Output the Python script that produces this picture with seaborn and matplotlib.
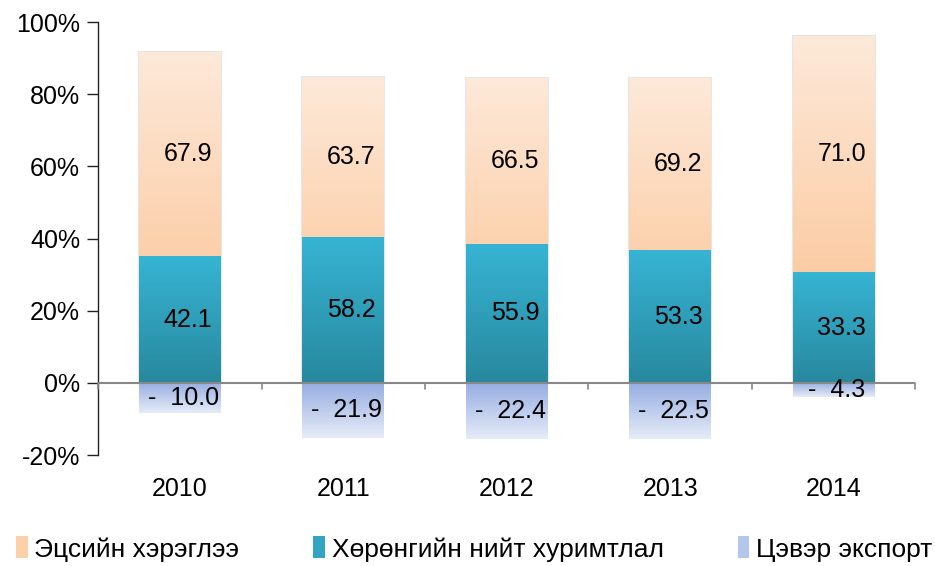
import numpy as np
import pandas as pd
import matplotlib
matplotlib.use('Agg')
import matplotlib.pyplot as plt
from matplotlib.colors import LinearSegmentedColormap
from matplotlib.patches import Patch
import seaborn as sns

years = ['2010', '2011', '2012', '2013', '2014']
consumption = [67.9, 63.7, 66.5, 69.2, 71.0]
investment = [42.1, 58.2, 55.9, 53.3, 33.3]
net_export = [-10.0, -21.9, -22.4, -22.5, -4.3]
series_names = ['Эцсийн хэрэглээ', 'Хөрөнгийн нийт хуримтлал', 'Цэвэр экспорт']

df = pd.DataFrame({'year': years, 'cons': consumption,
                   'inv': investment, 'nx': net_export})
total = df[['cons', 'inv']].sum(axis=1) + df['nx'].abs()
df['inv_pct'] = df['inv'] / total * 100
df['top_pct'] = (df['inv'] + df['cons']) / total * 100
df['nx_pct'] = df['nx'] / total * 100

sns.set_style('white')
plt.rcParams['font.family'] = ['Liberation Sans', 'DejaVu Sans']
plt.rcParams['text.color'] = 'black'
plt.rcParams['xtick.color'] = 'black'
plt.rcParams['ytick.color'] = 'black'

fig = plt.figure(figsize=(9.35, 5.66), dpi=100)
ax = fig.add_axes([0.105, 0.196, 0.874, 0.765])

grads = {
    'top': ('#fde9d9', '#fbbf8c'),
    'inv': ('#37b4d4', '#28889e'),
    'nx': ('#97aee2', '#e6ecf8'),
}

sns.barplot(data=df, x='year', y='top_pct', color='#fcd5b4', width=0.5,
            edgecolor='#e6e6e6', linewidth=1.5, ax=ax)
sns.barplot(data=df, x='year', y='inv_pct', color='#31a5c2', width=0.5,
            edgecolor='#e6e6e6', linewidth=1.5, ax=ax)
sns.barplot(data=df, x='year', y='nx_pct', color='#bccbee', width=0.5,
            linewidth=0, ax=ax)

keys = ['top'] * 5 + ['inv'] * 5 + ['nx'] * 5
for patch, key in zip(ax.patches, keys):
    x0, y0 = patch.get_x(), patch.get_y()
    w, h = patch.get_width(), patch.get_height()
    ylo, yhi = min(y0, y0 + h), max(y0, y0 + h)
    cmap = LinearSegmentedColormap.from_list(key, [grads[key][1], grads[key][0]])
    grad = np.linspace(0, 1, 256).reshape(-1, 1)
    im = ax.imshow(grad, extent=(x0, x0 + w, ylo, yhi), origin='lower',
                   cmap=cmap, aspect='auto', zorder=patch.get_zorder() + 0.1)
    im.set_clip_path(patch)

for i, row in df.iterrows():
    ax.text(i + 0.05, row['inv_pct'] + (row['top_pct'] - row['inv_pct']) / 2,
            f"{row['cons']:.1f}", ha='center', va='center', fontsize=18, zorder=5)
    ax.text(i + 0.05, row['inv_pct'] / 2, f"{row['inv']:.1f}",
            ha='center', va='center', fontsize=18, zorder=5)
    ax.text(i + 0.02, row['nx_pct'] / 2, f"-  {abs(row['nx']):.1f}",
            ha='center', va='center', fontsize=18, zorder=5)

ax.set_xlim(-0.5, 4.5)
ax.set_ylim(-20, 100)
ax.set_yticks(range(-20, 101, 20))
ax.set_yticklabels([f'{v}%' for v in range(-20, 101, 20)])
ax.set_xlabel('')
ax.set_ylabel('')
ax.autoscale(False)

for s in ['top', 'right', 'bottom']:
    ax.spines[s].set_visible(False)
ax.spines['left'].set_color('#222222')
ax.spines['left'].set_linewidth(1)
ax.axhline(0, color='#888888', linewidth=1.5, zorder=4)
for b in np.arange(-0.5, 4.6, 1.0):
    ax.plot([b, b], [0, -1.8], color='#888888', linewidth=1.2, zorder=4,
            clip_on=False)

ax.tick_params(axis='y', left=True, length=8, width=1, color='#222222',
               labelsize=18, pad=5)
ax.tick_params(axis='x', bottom=False, labelsize=18, pad=0)
for lbl in ax.get_xticklabels():
    lbl.set_y(-0.04)

handles = [Patch(facecolor='#fcd0a8', edgecolor='none'),
           Patch(facecolor='#31a5c2', edgecolor='none'),
           Patch(facecolor='#b5c6ec', edgecolor='none')]
fig.legend(handles, series_names, loc='center', ncol=3,
           bbox_to_anchor=(0.507, 0.03), frameon=False, fontsize=19,
           handlelength=0.45, handleheight=0.9, handletextpad=0.25,
           columnspacing=2.8)

fig.savefig('out.png', dpi=100)
